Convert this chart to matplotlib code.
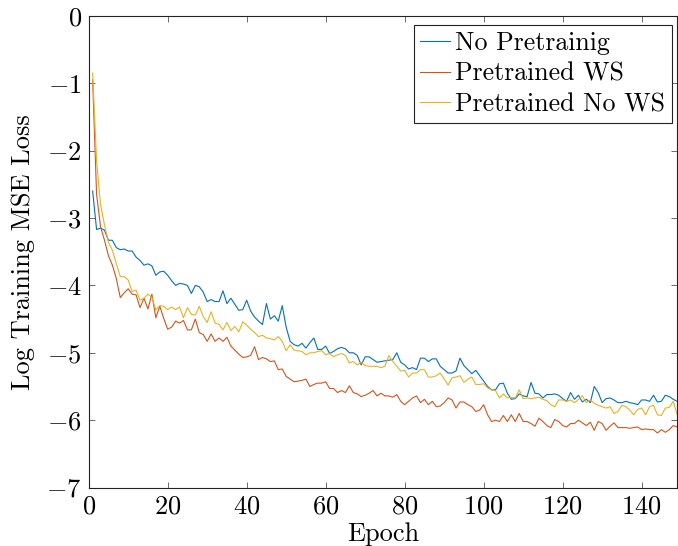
import numpy as np
import matplotlib
matplotlib.use("Agg")
import matplotlib.pyplot as plt

plt.rcParams["font.family"] = "cmr10"
plt.rcParams["mathtext.fontset"] = "cm"
plt.rcParams["axes.formatter.use_mathtext"] = True
plt.rcParams["axes.unicode_minus"] = True

epochs = np.arange(1, 150)

no_pretraining = [
    -2.60, -3.17, -3.15, -3.18, -3.33, -3.33, -3.44, -3.47, -3.46, -3.49,
    -3.49, -3.58, -3.63, -3.70, -3.68, -3.71, -3.85, -3.80, -3.79, -3.85,
    -3.93, -4.00, -3.97, -3.98, -4.00, -4.12, -4.00, -4.02, -4.10, -4.24,
    -4.21, -4.24, -4.24, -4.08, -4.27, -4.19, -4.28, -4.37, -4.36, -4.22,
    -4.38, -4.47, -4.53, -4.58, -4.27, -4.50, -4.45, -4.53, -4.30, -4.62,
    -4.83, -4.88, -4.90, -4.86, -4.93, -4.85, -4.78, -4.95, -4.95, -4.90,
    -5.01, -4.98, -4.94, -4.92, -4.94, -5.00, -5.00, -5.04, -5.18, -5.06,
    -5.06, -5.10, -5.14, -5.13, -5.12, -5.11, -5.10, -5.00, -5.14, -5.18,
    -5.24, -5.22, -5.25, -5.08, -5.08, -5.13, -5.09, -5.09, -5.20, -5.25,
    -5.30, -5.30, -5.27, -5.08, -5.19, -5.25, -5.31, -5.26, -5.34, -5.42,
    -5.50, -5.55, -5.55, -5.46, -5.45, -5.60, -5.69, -5.68, -5.61, -5.64,
    -5.65, -5.44, -5.60, -5.61, -5.67, -5.62, -5.62, -5.61, -5.63, -5.68,
    -5.72, -5.59, -5.69, -5.63, -5.73, -5.69, -5.74, -5.50, -5.59, -5.74,
    -5.68, -5.67, -5.70, -5.74, -5.74, -5.72, -5.74, -5.75, -5.77, -5.70,
    -5.70, -5.72, -5.63, -5.73, -5.72, -5.63, -5.65, -5.69, -5.72,
]

pretrained_ws = [
    -0.95, -2.65, -3.13, -3.33, -3.56, -3.70, -3.90, -4.18, -4.11, -4.05,
    -4.13, -4.14, -4.33, -4.19, -4.35, -4.13, -4.48, -4.31, -4.49, -4.65,
    -4.62, -4.53, -4.56, -4.52, -4.66, -4.66, -4.50, -4.70, -4.73, -4.83,
    -4.72, -4.83, -4.78, -4.83, -4.77, -4.90, -4.96, -5.02, -5.07, -5.06,
    -5.04, -4.91, -5.10, -5.07, -5.09, -5.13, -5.12, -5.25, -5.24, -5.35,
    -5.39, -5.43, -5.42, -5.41, -5.39, -5.50, -5.47, -5.45, -5.45, -5.43,
    -5.53, -5.53, -5.59, -5.56, -5.59, -5.49, -5.59, -5.61, -5.65, -5.63,
    -5.60, -5.56, -5.64, -5.60, -5.64, -5.64, -5.66, -5.62, -5.72, -5.77,
    -5.72, -5.67, -5.64, -5.74, -5.69, -5.77, -5.72, -5.80, -5.79, -5.74,
    -5.67, -5.70, -5.82, -5.73, -5.73, -5.77, -5.80, -5.87, -5.85, -5.77,
    -5.92, -6.02, -6.00, -6.02, -5.93, -6.02, -5.92, -6.02, -5.90, -6.02,
    -6.02, -6.05, -6.09, -5.97, -6.02, -6.08, -6.11, -5.99, -6.02, -6.08,
    -6.10, -6.05, -6.05, -6.00, -6.04, -6.08, -6.03, -6.15, -6.02, -6.05,
    -6.15, -6.09, -6.04, -6.11, -6.11, -6.11, -6.12, -6.11, -6.10, -6.14,
    -6.13, -6.14, -6.14, -6.19, -6.14, -6.18, -6.14, -6.08, -6.10,
]

pretrained_no_ws = [
    -0.85, -2.15, -2.80, -3.10, -3.36, -3.48, -3.68, -3.87, -3.87, -3.92,
    -4.09, -4.07, -4.22, -4.19, -4.13, -4.18, -4.36, -4.30, -4.31, -4.36,
    -4.32, -4.36, -4.32, -4.48, -4.33, -4.43, -4.44, -4.31, -4.46, -4.55,
    -4.39, -4.56, -4.58, -4.66, -4.55, -4.67, -4.61, -4.69, -4.54, -4.59,
    -4.65, -4.70, -4.76, -4.74, -4.78, -4.79, -4.81, -4.76, -4.83, -4.97,
    -4.88, -4.96, -4.97, -4.98, -5.03, -5.00, -5.00, -4.98, -4.97, -5.03,
    -5.01, -5.06, -5.03, -5.01, -5.04, -5.15, -5.13, -5.18, -5.14, -5.19,
    -5.20, -5.20, -5.20, -5.22, -5.20, -5.04, -5.13, -5.20, -5.27, -5.26,
    -5.36, -5.30, -5.30, -5.25, -5.25, -5.36, -5.36, -5.34, -5.30, -5.39,
    -5.48, -5.37, -5.36, -5.34, -5.44, -5.39, -5.36, -5.47, -5.47, -5.46,
    -5.52, -5.55, -5.56, -5.67, -5.61, -5.67, -5.66, -5.67, -5.55, -5.68,
    -5.67, -5.68, -5.67, -5.66, -5.69, -5.71, -5.77, -5.80, -5.70, -5.70,
    -5.72, -5.70, -5.74, -5.69, -5.64, -5.74, -5.70, -5.75, -5.78, -5.80,
    -5.82, -5.80, -5.90, -5.87, -5.78, -5.80, -5.85, -5.92, -5.84, -5.82,
    -5.92, -5.80, -5.78, -5.92, -5.93, -5.82, -5.81, -5.72, -5.92,
]

series_labels = ["No Pretrainig", "Pretrained WS", "Pretrained No WS"]
series_colors = ["#0072BD", "#D95319", "#EDB120"]
x_ticks = [0, 20, 40, 60, 80, 100, 120, 140]
y_ticks = [0, -1, -2, -3, -4, -5, -6, -7]

fs = 19

fig = plt.figure(figsize=(6.78, 5.46), dpi=100)
ax = fig.add_axes([0.1308, 0.107, 0.868, 0.864])

for values, label, color in zip(
    [no_pretraining, pretrained_ws, pretrained_no_ws], series_labels, series_colors
):
    ax.plot(epochs, values, color=color, lw=0.8, label=label)

ax.set_xlim(0, 149)
ax.set_ylim(-7, 0)
ax.set_xticks(x_ticks)
ax.set_yticks(y_ticks)
ax.tick_params(direction="in", length=4.5, width=0.6, color="#555555",
               top=True, right=True, labelsize=fs, pad=5)
for spine in ax.spines.values():
    spine.set_linewidth(0.8)
    spine.set_color("#222222")

ax.set_xlabel("Epoch", fontsize=fs, labelpad=3)
ax.set_ylabel("Log Training MSE Loss", fontsize=fs, labelpad=8)

leg = ax.legend(loc="upper right", bbox_to_anchor=(0.991, 0.98), fontsize=18.6,
                frameon=True, fancybox=False, framealpha=1, edgecolor="#222222",
                handlelength=1.17, handletextpad=0.2, borderpad=0.25,
                labelspacing=0.26, borderaxespad=0)
leg.get_frame().set_linewidth(0.8)

fig.savefig("out.png", dpi=100)
